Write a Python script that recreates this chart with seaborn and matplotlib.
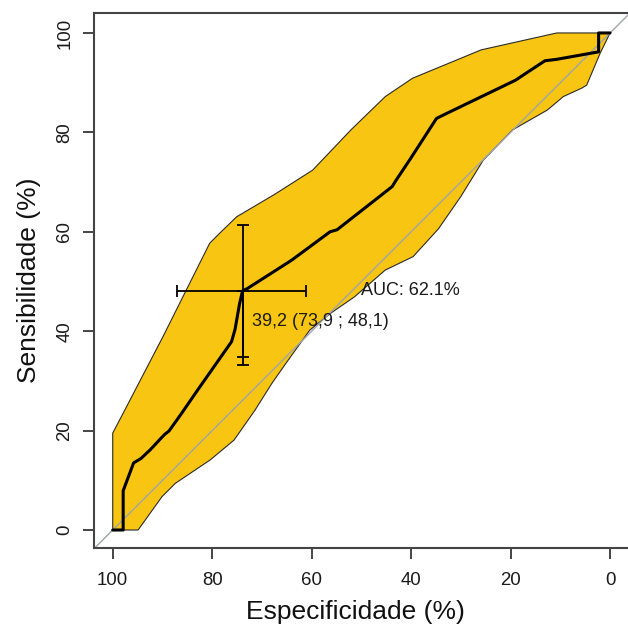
import matplotlib
matplotlib.use("Agg")
import matplotlib.pyplot as plt
import numpy as np
import pandas as pd
import seaborn as sns

# ROC curve (specificity %, sensitivity %)
roc_spec = [100, 97.9, 97.9, 95.8, 94.3, 92.5, 89.6, 88.7, 86.2, 82.9, 76.1, 75.4,
            74.5, 73.9, 72.9, 64.0, 56.3, 54.9, 43.8, 43.2, 40.2, 34.9, 33.5, 19.0,
            16.9, 13.1, 10.7, 2.3, 2.3, 0]
roc_sens = [0, 0, 7.9, 13.5, 14.4, 16.1, 19.2, 19.9, 23.4, 28.2, 37.9, 40.4,
            45.5, 48.1, 48.6, 54.3, 60.0, 60.4, 69.1, 70.1, 74.6, 82.8, 83.5, 90.5,
            91.9, 94.4, 94.7, 96.2, 100, 100]

# Confidence band of sensitivity: upper and lower limits
ci_upper_spec = [100, 100, 97.9, 89.9, 82.5, 80.5, 78.5, 75.1, 67.5, 59.8, 52.1,
                 45.2, 39.7, 25.9, 18.3, 10.7, 0]
ci_upper_sens = [0, 19.5, 23.5, 38.9, 53.7, 57.7, 59.7, 63.0, 67.5, 72.4, 80.5,
                 87.2, 90.9, 96.6, 98.3, 100, 100]
ci_lower_spec = [100, 94.9, 90.1, 87.4, 80.4, 75.6, 71.4, 68.0, 65.2, 60.4, 56.2,
                 51.4, 48.3, 45.2, 39.6, 34.5, 30.0, 25.5, 19.6, 12.6, 9.4, 5.7,
                 4.7, 2.0, 0]
ci_lower_sens = [0, 0, 6.7, 9.4, 14.1, 18.1, 24.1, 29.5, 33.5, 40.2, 43.6,
                 46.9, 49.6, 52.3, 55.0, 60.6, 67.1, 74.4, 80.5, 84.5, 87.2, 88.9,
                 89.5, 95.9, 100]

# Best threshold with its confidence intervals
threshold = 39.2
thr_spec = 73.9
thr_sens = 48.1
thr_spec_ci = [86.7, 60.8]
thr_sens_ci = [33.1, 61.4]
thr_sens_ci_inner = 34.9
auc_pct = 62.1

sns.set_theme(style="white")
plt.rcParams["font.family"] = ["Liberation Sans", "DejaVu Sans"]

fig = plt.figure(figsize=(6.28, 6.24), dpi=100)
ax = fig.add_axes([0.1502, 0.1218, 0.8529, 0.8574])
ax.set_facecolor("white")

# Confidence band polygon
band_x = ci_upper_spec + ci_lower_spec[::-1]
band_y = ci_upper_sens + ci_lower_sens[::-1]
ax.fill(band_x, band_y, facecolor="#F9C513", edgecolor="#2a2a2a",
        linewidth=0.8, zorder=1)

# Chance line
ax.axline((100, 0), (0, 100), color="#a0a4a8", linewidth=1.0, zorder=2)

# ROC curve
roc_df = pd.DataFrame({"Especificidade": roc_spec, "Sensibilidade": roc_sens})
sns.lineplot(data=roc_df, x="Especificidade", y="Sensibilidade", sort=False,
             estimator=None, color="black", linewidth=2.2, ax=ax, zorder=3)

# Threshold confidence crosshair
ax.errorbar(thr_spec, thr_sens,
            xerr=[[thr_spec_ci[0] - thr_spec], [thr_spec - thr_spec_ci[1]]],
            yerr=[[thr_sens - thr_sens_ci[0]], [thr_sens_ci[1] - thr_sens]],
            fmt="none", ecolor="black", elinewidth=1.3, capsize=4.5,
            capthick=1.3, zorder=4)
ax.errorbar(thr_spec, thr_sens,
            yerr=[[thr_sens - thr_sens_ci_inner], [0]],
            fmt="none", ecolor="black", elinewidth=1.3, capsize=4.5,
            capthick=1.3, zorder=4)

def fmt_pt(v):
    return f"{v:.1f}".replace(".", ",")

ax.text(72.0, 41.9, f"{fmt_pt(threshold)} ({fmt_pt(thr_spec)} ; {fmt_pt(thr_sens)})",
        ha="left", va="center", fontsize=13, color="#1a1a1a", zorder=5)
ax.text(50.0, 48.1, f"AUC: {auc_pct:.1f}%", ha="left", va="center",
        fontsize=13, color="#1a1a1a", zorder=5)

ax.set_xlim(103.7, -4.0)
ax.set_ylim(-3.62, 104.02)
ticks = [0, 20, 40, 60, 80, 100]
ax.set_xticks(ticks)
ax.set_yticks(ticks)
ax.set_xticklabels([str(t) for t in ticks])
ax.set_yticklabels([str(t) for t in ticks], rotation=90, va="center")

for side in ["left", "bottom", "top", "right"]:
    ax.spines[side].set_visible(True)
    ax.spines[side].set_color("#444444")
    ax.spines[side].set_linewidth(1.5)

ax.tick_params(axis="both", which="major", direction="out", length=8,
               width=1.4, color="#444444", labelsize=13.4, labelcolor="#1a1a1a",
               bottom=True, left=True)
ax.tick_params(axis="x", pad=9)
ax.tick_params(axis="y", pad=7)

ax.set_xlabel("Especificidade (%)", fontsize=19, color="#111111")
ax.set_ylabel("Sensibilidade (%)", fontsize=19, color="#111111")
ax.xaxis.set_label_coords(355 / 628, (624 - 619) / 624, transform=fig.transFigure)
ax.xaxis.label.set_va("baseline")
ax.yaxis.set_label_coords(29 / 628, (624 - 280) / 624, transform=fig.transFigure)
ax.yaxis.label.set_va("center")

fig.savefig("out.png", dpi=100, facecolor="white")
